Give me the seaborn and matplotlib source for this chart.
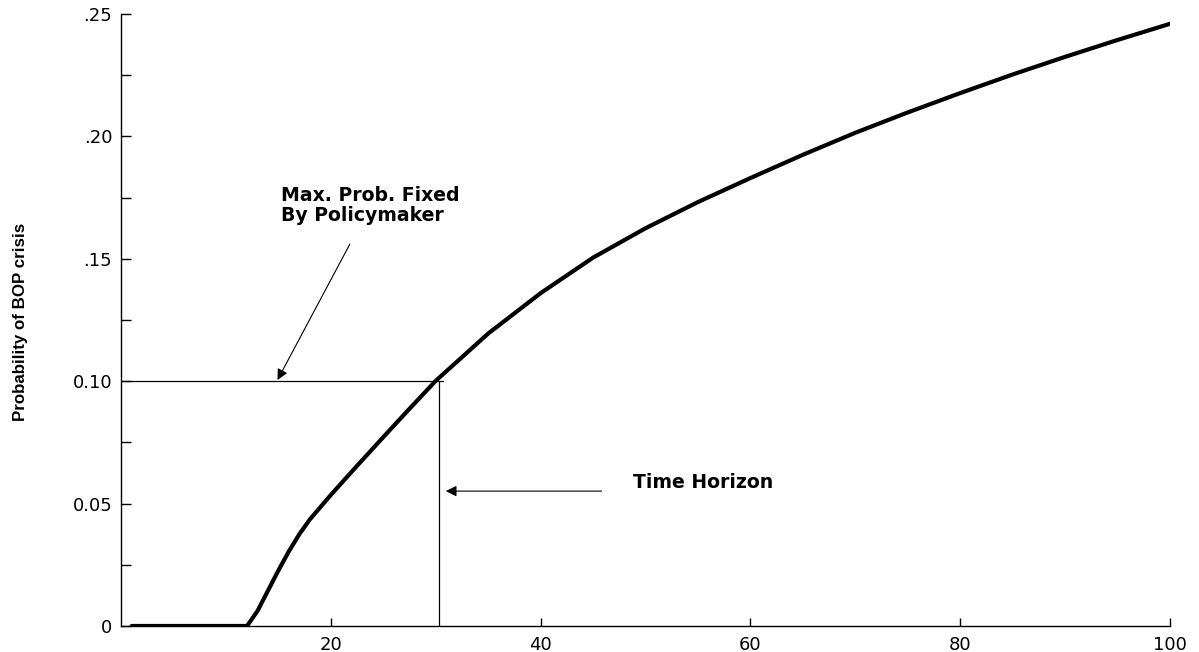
import matplotlib
matplotlib.use("Agg")
import matplotlib.pyplot as plt
import seaborn as sns
import pandas as pd
from matplotlib.ticker import MultipleLocator

# ---- data ----
horizon = [1, 12, 13, 14, 15, 16, 17, 18, 20, 22.5, 25, 27.5, 30, 35, 40, 45, 50, 55, 60,
           65, 70, 75, 80, 85, 90, 95, 100]
prob = [0.0, 0.0, 0.0062, 0.0145, 0.0228, 0.0306, 0.0376, 0.0436, 0.0536, 0.0655, 0.0772,
        0.0888, 0.1002, 0.1195, 0.1360, 0.1505, 0.1625, 0.1732, 0.1830, 0.1925, 0.2015,
        0.2098, 0.2177, 0.2253, 0.2325, 0.2394, 0.2460]
ytick_vals = [0.0, 0.05, 0.10, 0.15, 0.20, 0.25]
ytick_labels = ["0", "0.05", "0.10", ".15", ".20", ".25"]
xtick_vals = [20, 40, 60, 80, 100]
max_prob = 0.10
time_horizon = 30.3

sns.set_theme(style="white")
plt.rcParams["font.family"] = ["DejaVu Sans"]

fig = plt.figure(figsize=(11.99, 6.52), dpi=100)
ax = fig.add_axes([0.1011, 0.0399, 0.8747, 0.9386])

df = pd.DataFrame({"t": horizon, "p": prob})
sns.lineplot(data=df, x="t", y="p", ax=ax, color="black", linewidth=3.0)

# reference lines
ax.plot([0, 30.65], [max_prob, max_prob], color="black", linewidth=0.9)
ax.plot([time_horizon, time_horizon], [0, max_prob], color="black", linewidth=0.9)

ax.set_xlim(0, 100)
ax.set_ylim(0, 0.25)
ax.set_xticks(xtick_vals)
ax.set_xticklabels([str(v) for v in xtick_vals])
ax.set_yticks(ytick_vals)
ax.set_yticklabels(ytick_labels)
ax.yaxis.set_minor_locator(MultipleLocator(0.025))

for s in ["top", "right"]:
    ax.spines[s].set_visible(False)
for s in ["left", "bottom"]:
    ax.spines[s].set_color("black")
    ax.spines[s].set_linewidth(1.0)

ax.tick_params(axis="y", which="both", direction="in", length=7, width=1.0, color="black",
               labelsize=13, pad=6.5, left=True, labelcolor="black")
ax.tick_params(axis="x", which="both", direction="in", length=6, width=1.0, color="black",
               labelsize=13, pad=7, bottom=True, labelcolor="black")

ax.set_xlabel("")
ax.set_ylabel("Probability of BOP crisis", fontsize=12.2, fontweight="bold",
              family="Liberation Sans", color="black")
ax.yaxis.set_label_coords(-0.0886, 0.497)

ax.annotate("", xy=(14.9, 0.1005), xytext=(21.8, 0.156),
            arrowprops=dict(arrowstyle="-|>", color="black", lw=0.8,
                            mutation_scale=16, shrinkA=0, shrinkB=0))
ax.annotate("", xy=(30.95, 0.0551), xytext=(45.8, 0.0551),
            arrowprops=dict(arrowstyle="-|>", color="black", lw=0.8,
                            mutation_scale=16, shrinkA=0, shrinkB=0))

ax.text(15.2, 0.1797, "Max. Prob. Fixed\nBy Policymaker", fontsize=13.6, fontweight="bold",
        ha="left", va="top", linespacing=1.05, color="black")
ax.text(48.8, 0.0585, "Time Horizon", fontsize=13.6, fontweight="bold", ha="left",
        va="center", color="black")

fig.savefig("out.png", dpi=100, facecolor="white")
